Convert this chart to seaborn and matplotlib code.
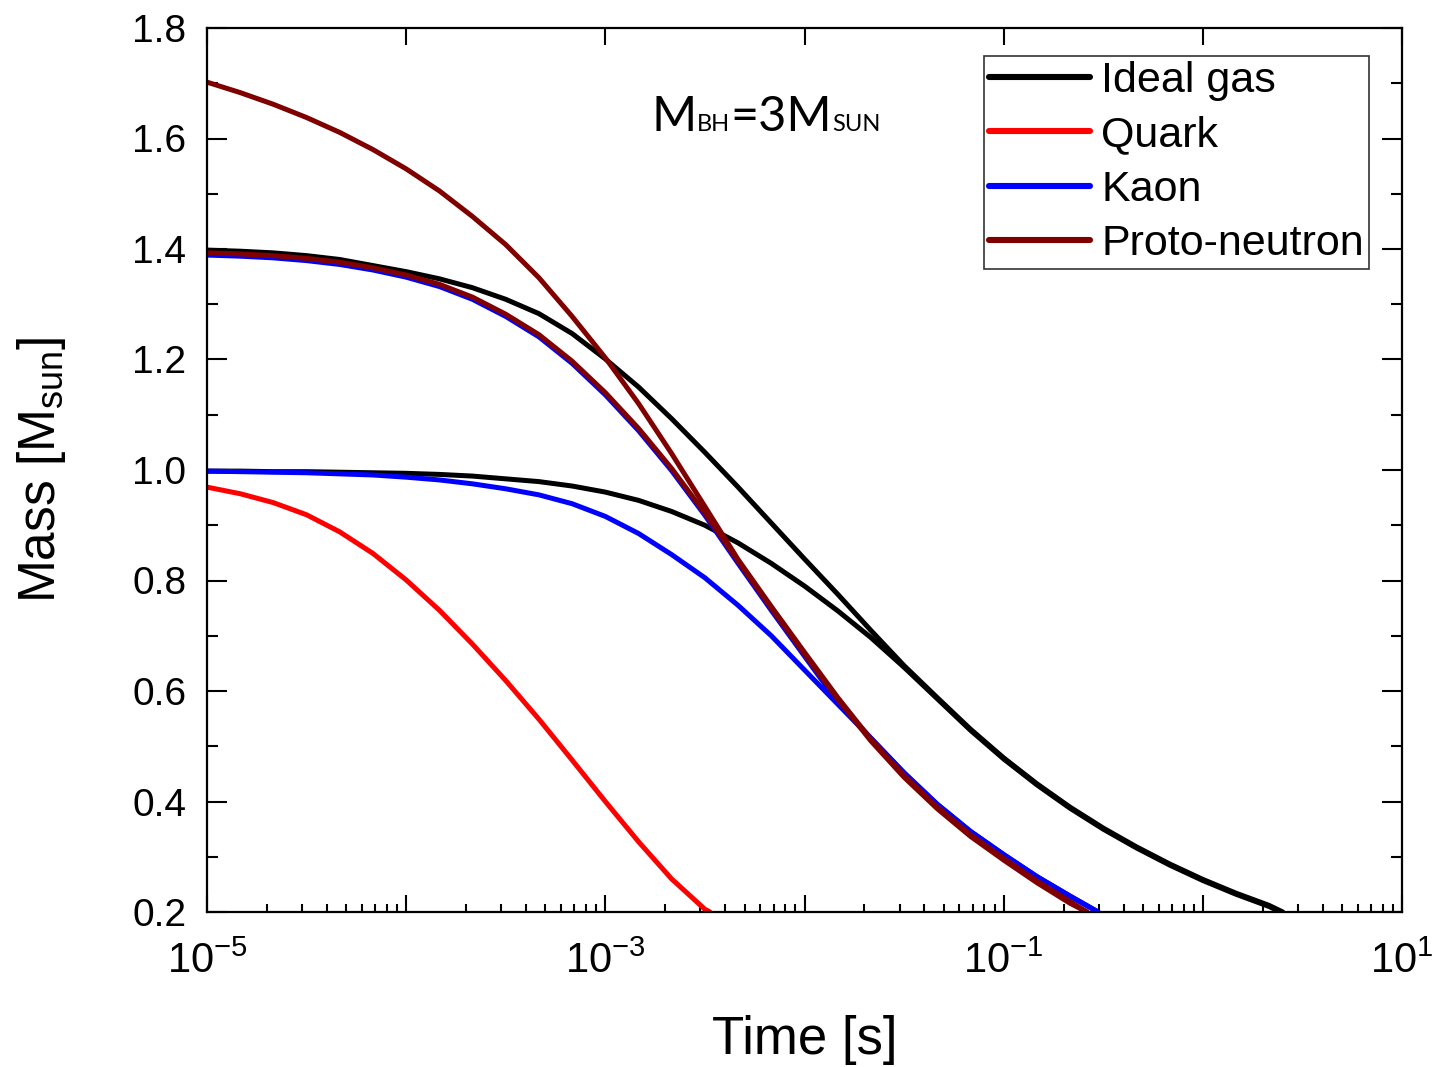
import numpy as np
import pandas as pd
import matplotlib
matplotlib.use("Agg")
import matplotlib.pyplot as plt
import seaborn as sns
from matplotlib.ticker import LogLocator, FuncFormatter, MultipleLocator, NullFormatter, FormatStrFormatter
from matplotlib.lines import Line2D

# ---- data: remaining mass vs. time for each equation of state ----
t_grid = [1.00e-5, 1.47e-5, 2.15e-5, 3.16e-5, 4.64e-5, 6.81e-5,
          1.00e-4, 1.47e-4, 2.15e-4, 3.16e-4, 4.64e-4, 6.81e-4,
          1.00e-3, 1.47e-3, 2.15e-3, 3.16e-3, 4.64e-3, 6.81e-3,
          1.00e-2, 1.47e-2, 2.15e-2, 3.16e-2, 4.64e-2, 6.81e-2,
          1.00e-1, 1.47e-1, 2.15e-1, 3.16e-1, 4.64e-1, 6.81e-1,
          1.00, 1.47, 2.15]

ideal_14_t = t_grid + [2.52]
ideal_14_m = [1.398, 1.396, 1.393, 1.388, 1.381, 1.370, 1.359, 1.346, 1.330, 1.309,
              1.283, 1.247, 1.201, 1.150, 1.093, 1.032, 0.969, 0.904, 0.839, 0.775,
              0.710, 0.646, 0.588, 0.531, 0.479, 0.432, 0.390, 0.352, 0.318, 0.287,
              0.259, 0.234, 0.212, 0.200]

ideal_10_t = t_grid + [2.52]
ideal_10_m = [0.998, 0.998, 0.997, 0.997, 0.996, 0.995, 0.994, 0.992, 0.989, 0.984,
              0.979, 0.971, 0.960, 0.945, 0.925, 0.900, 0.868, 0.831, 0.790, 0.745,
              0.697, 0.643, 0.586, 0.529, 0.477, 0.430, 0.388, 0.350, 0.316, 0.285,
              0.257, 0.232, 0.210, 0.198]

quark_t = t_grid[:16] + [3.35e-3]
quark_m = [0.969, 0.957, 0.941, 0.919, 0.888, 0.849, 0.801, 0.746, 0.685, 0.619,
           0.549, 0.475, 0.400, 0.327, 0.260, 0.205, 0.200]

kaon_10_t = t_grid[:27] + [2.98e-1]
kaon_10_m = [0.998, 0.997, 0.996, 0.995, 0.993, 0.991, 0.987, 0.982, 0.975, 0.966,
             0.955, 0.939, 0.916, 0.885, 0.847, 0.805, 0.755, 0.700, 0.638, 0.576,
             0.515, 0.452, 0.395, 0.346, 0.304, 0.264, 0.229, 0.200]

kaon_14_t = t_grid[:27] + [2.98e-1]
kaon_14_m = [1.389, 1.387, 1.384, 1.379, 1.372, 1.362, 1.349, 1.332, 1.309, 1.278,
             1.241, 1.193, 1.136, 1.071, 0.999, 0.918, 0.831, 0.746, 0.663, 0.580,
             0.515, 0.452, 0.395, 0.346, 0.304, 0.264, 0.229, 0.200]

pn_17_t = t_grid[:27] + [2.62e-1]
pn_17_m = [1.702, 1.683, 1.662, 1.638, 1.611, 1.580, 1.545, 1.505, 1.459, 1.408,
           1.348, 1.278, 1.203, 1.120, 1.030, 0.934, 0.838, 0.753, 0.670, 0.588,
           0.513, 0.447, 0.390, 0.340, 0.297, 0.256, 0.219, 0.200]

pn_14_t = t_grid[:27] + [2.62e-1]
pn_14_m = [1.393, 1.391, 1.388, 1.383, 1.376, 1.366, 1.353, 1.336, 1.313, 1.282,
           1.245, 1.197, 1.140, 1.075, 1.003, 0.922, 0.835, 0.750, 0.667, 0.585,
           0.510, 0.444, 0.387, 0.337, 0.294, 0.253, 0.216, 0.200]

eos_labels = ["Ideal gas", "Quark", "Kaon", "Proto-neutron"]
eos_colors = ["#000000", "#FF0000", "#0000FF", "#800000"]

curves = [
    ("Ideal gas", "ideal_14", ideal_14_t, ideal_14_m),
    ("Ideal gas", "ideal_10", ideal_10_t, ideal_10_m),
    ("Quark", "quark", quark_t, quark_m),
    ("Kaon", "kaon_14", kaon_14_t, kaon_14_m),
    ("Kaon", "kaon_10", kaon_10_t, kaon_10_m),
    ("Proto-neutron", "pn_14", pn_14_t, pn_14_m),
    ("Proto-neutron", "pn_17", pn_17_t, pn_17_m),
]
rows = []
for eos, run, ts, ms in curves:
    for t, m in zip(ts, ms):
        rows.append({"time": t, "mass": m, "eos": eos, "run": run})
df = pd.DataFrame(rows)

# ---- style ----
sns.set_theme(style="ticks")
plt.rcParams["font.family"] = ["Liberation Sans", "DejaVu Sans"]
plt.rcParams["mathtext.fontset"] = "custom"
plt.rcParams["mathtext.rm"] = "Liberation Sans"
plt.rcParams["mathtext.it"] = "Liberation Sans:italic"
plt.rcParams["mathtext.bf"] = "Liberation Sans:bold"
plt.rcParams["mathtext.default"] = "regular"
for key in ["text.color", "axes.labelcolor", "xtick.color", "ytick.color", "axes.edgecolor"]:
    plt.rcParams[key] = "black"

W, H = 1433, 1067
fig = plt.figure(figsize=(W / 100, H / 100), dpi=100)
ax = fig.add_axes([207 / W, 1 - 912 / H, 1195 / W, 884 / H])

sns.lineplot(data=df, x="time", y="mass", hue="eos", hue_order=eos_labels,
             palette=dict(zip(eos_labels, eos_colors)), units="run",
             estimator=None, sort=False, linewidth=3.6, legend=False, ax=ax)

ax.set_xscale("log")
ax.set_xlim(1e-5, 10)
ax.set_ylim(0.2, 1.8)

ax.xaxis.set_major_locator(LogLocator(base=10, numticks=20))
ax.xaxis.set_minor_locator(LogLocator(base=10, subs=np.arange(2, 10), numticks=20))
ax.xaxis.set_minor_formatter(NullFormatter())


def decade_label(v, pos):
    e = int(round(np.log10(v)))
    return rf"$10^{{{e}}}$" if e % 2 else ""


ax.xaxis.set_major_formatter(FuncFormatter(decade_label))
ax.yaxis.set_major_locator(MultipleLocator(0.2))
ax.yaxis.set_minor_locator(MultipleLocator(0.1))
ax.yaxis.set_major_formatter(FormatStrFormatter("%.1f"))

ax.tick_params(which="both", direction="in", colors="black", width=1.5,
               labelsize=28, bottom=True, left=True, right=True)
ax.tick_params(which="major", top=True)
ax.tick_params(which="minor", top=False)
ax.tick_params(axis="y", which="major", length=14.5, pad=15)
ax.tick_params(axis="y", which="minor", length=8)
ax.tick_params(axis="x", which="major", length=12.5, pad=21)
ax.tick_params(axis="x", which="minor", length=6)
ax.tick_params(axis="x", which="major", labelsize=30)
for sp in ax.spines.values():
    sp.set_linewidth(1.6)
    sp.set_color("black")

ax.set_xlabel("Time [s]", fontsize=38, labelpad=24)
ax.set_ylabel(r"Mass [M$_{sun}$]", fontsize=37, labelpad=46)

handles = [Line2D([], [], color=c, lw=4.4) for c in eos_colors]
leg = ax.legend(handles, eos_labels, loc="upper right",
                bbox_to_anchor=(0.9724, 0.9683), borderaxespad=0,
                fontsize=31, handlelength=2.35, handletextpad=0.25,
                labelspacing=0.33, borderpad=0.12, frameon=True,
                fancybox=False, edgecolor="#333333", framealpha=1)
leg.get_frame().set_linewidth(1.2)

# ---- black-hole mass annotation with small-caps style pieces ----
renderer = fig.canvas.get_renderer()
x_px = 652
for s, size in [("M", 35), ("BH", 17), ("=3M", 35), ("SUN", 17)]:
    txt = fig.text(x_px / W, 1 - 131 / H, s, fontsize=size, family="Lato",
                   va="baseline", ha="left", color="black")
    bb = txt.get_window_extent(renderer)
    x_px = bb.x1

fig.savefig("out.png", dpi=100)
